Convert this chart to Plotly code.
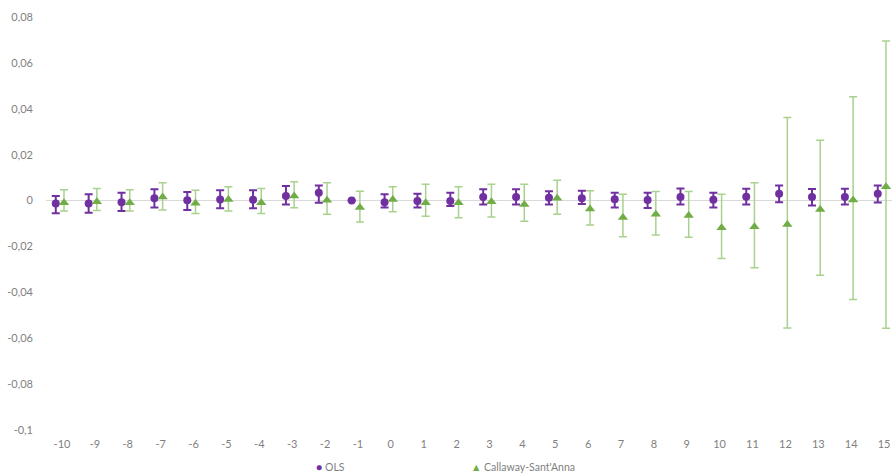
import plotly.graph_objects as go

periods = list(range(-10, 16))
x_labels = [str(p) for p in periods]

ols_est = [-0.0013, -0.0013, -0.0007, 0.0010, 0.0001, 0.0005, 0.0004, 0.0020, 0.0034, 0.0000,
           -0.0007, -0.0002, -0.0002, 0.0015, 0.0015, 0.0012, 0.0010, 0.0006, 0.0002, 0.0016,
           0.0004, 0.0017, 0.0030, 0.0015, 0.0015, 0.0030]
ols_hi = [0.0020, 0.0027, 0.0034, 0.0049, 0.0037, 0.0045, 0.0045, 0.0063, 0.0066, 0.0000,
          0.0027, 0.0030, 0.0034, 0.0049, 0.0049, 0.0041, 0.0043, 0.0034, 0.0034, 0.0053,
          0.0034, 0.0051, 0.0066, 0.0050, 0.0051, 0.0066]
ols_lo = [-0.0055, -0.0053, -0.0046, -0.0030, -0.0041, -0.0034, -0.0034, -0.0017, -0.0010, 0.0000,
          -0.0030, -0.0030, -0.0024, -0.0017, -0.0017, -0.0017, -0.0015, -0.0030, -0.0032, -0.0017,
          -0.0030, -0.0017, -0.0007, -0.0022, -0.0017, -0.0008]

cs_est = [-0.0010, -0.0005, -0.0010, 0.0015, -0.0012, 0.0005, -0.0010, 0.0020, 0.0001, -0.0030,
          0.0005, -0.0010, -0.0010, -0.0005, -0.0017, 0.0010, -0.0037, -0.0074, -0.0060, -0.0065,
          -0.0119, -0.0114, -0.0104, -0.0039, 0.0002, 0.0060]
cs_hi = [0.0047, 0.0053, 0.0047, 0.0078, 0.0045, 0.0060, 0.0053, 0.0082, 0.0078, 0.0041,
         0.0060, 0.0071, 0.0060, 0.0071, 0.0071, 0.0088, 0.0043, 0.0027, 0.0040, 0.0040,
         0.0027, 0.0078, 0.0362, 0.0263, 0.0452, 0.0695]
cs_lo = [-0.0045, -0.0043, -0.0045, -0.0041, -0.0056, -0.0046, -0.0056, -0.0031, -0.0060, -0.0094,
         -0.0049, -0.0068, -0.0075, -0.0072, -0.0090, -0.0060, -0.0107, -0.0158, -0.0150, -0.0160,
         -0.0253, -0.0293, -0.0555, -0.0325, -0.0431, -0.0557]

y_ticks = [0.08, 0.06, 0.04, 0.02, 0, -0.02, -0.04, -0.06, -0.08, -0.1]
y_labels = ["0,08", "0,06", "0,04", "0,02", "0", "-0,02", "-0,04", "-0,06", "-0,08", "-0,1"]

OLS_COLOR = "#7030A0"
CS_COLOR = "#70AD47"
CS_BAR = "#A9D18E"
TXT = "#7F7F7F"
FONT = "Lato, 'Liberation Sans', sans-serif"

ols_x = [p - 0.19 for p in periods]
cs_x = [p + 0.06 for p in periods]

fig = go.Figure()
fig.add_trace(go.Scatter(
    x=ols_x, y=ols_est, mode="markers", name="OLS",
    marker=dict(symbol="circle", size=8, color=OLS_COLOR),
    error_y=dict(type="data", symmetric=False,
                 array=[h - e for h, e in zip(ols_hi, ols_est)],
                 arrayminus=[e - l for e, l in zip(ols_est, ols_lo)],
                 color=OLS_COLOR, thickness=2, width=4),
))
fig.add_trace(go.Scatter(
    x=cs_x, y=cs_est, mode="markers", name="Callaway-Sant'Anna",
    marker=dict(symbol="triangle-up", size=9, color=CS_COLOR),
    error_y=dict(type="data", symmetric=False,
                 array=[h - e for h, e in zip(cs_hi, cs_est)],
                 arrayminus=[e - l for e, l in zip(cs_est, cs_lo)],
                 color=CS_BAR, thickness=1.5, width=4),
))

fig.update_layout(
    width=892, height=474,
    margin=dict(l=46, r=0, t=17, b=44),
    paper_bgcolor="white", plot_bgcolor="white",
    showlegend=False,
    font=dict(family=FONT, size=11, color=TXT),
    xaxis=dict(range=[-10.487, 15.243], tickvals=periods, ticktext=x_labels,
               showgrid=False, zeroline=False, showline=False, ticks="",
               tickfont=dict(size=11, color=TXT), ticklabelstandoff=6),
    yaxis=dict(range=[-0.1, 0.08], tickvals=y_ticks, ticktext=y_labels,
               showgrid=False, zeroline=True, zerolinecolor="#D9D9D9", zerolinewidth=1,
               showline=False, ticks="", tickfont=dict(size=11, color=TXT),
               ticklabelstandoff=12),
    annotations=[
        dict(xref="paper", yref="paper", x=(314 - 46) / 846, y=-0.0896,
             xanchor="left", yanchor="middle", showarrow=False,
             text=f"<span style='color:{OLS_COLOR}'>●</span> OLS",
             font=dict(size=10.5, color=TXT, family=FONT)),
        dict(xref="paper", yref="paper", x=(469 - 46) / 846, y=-0.0896,
             xanchor="left", yanchor="middle", showarrow=False,
             text=f"<span style='color:{CS_COLOR}'>▲</span> Callaway-Sant'Anna",
             font=dict(size=10.5, color=TXT, family=FONT)),
    ],
)

fig.write_html("out.html")
